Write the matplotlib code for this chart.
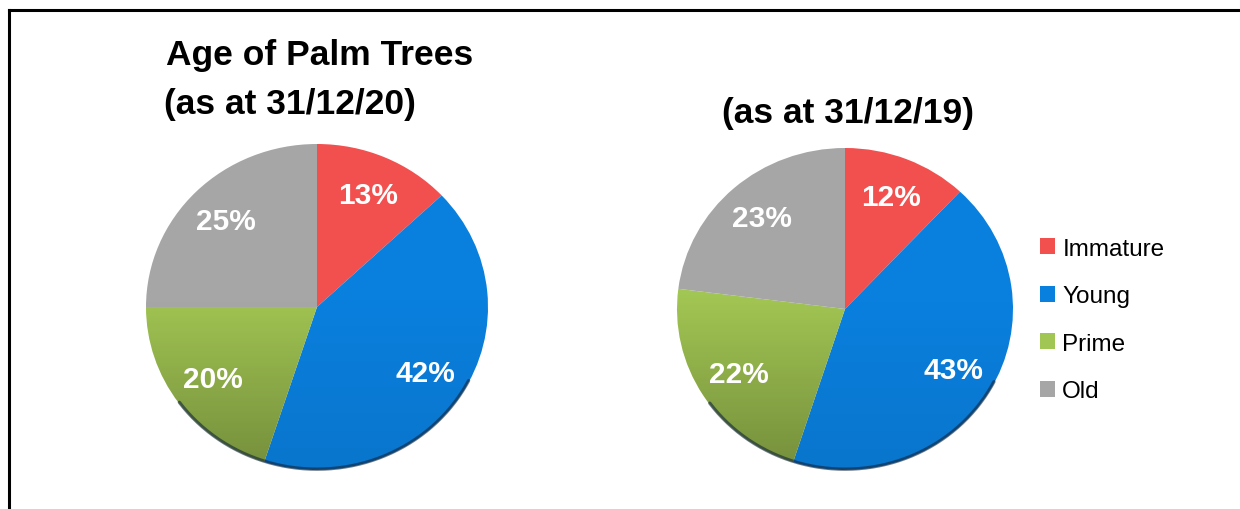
import numpy as np
import matplotlib
matplotlib.use('Agg')
from matplotlib import pyplot as plt
from matplotlib.patches import Patch
from matplotlib.lines import Line2D

plt.rcParams['font.family'] = ['Liberation Sans', 'DejaVu Sans']

categories = ['Immature', 'Young', 'Prime', 'Old']
values_2020 = [13, 42, 20, 25]
values_2019 = [12, 43, 22, 23]
colors = ['#F2504F', '#0A80DE', '#A2C653', '#A6A6A6']
shade_strength = [0.06, 0.08, 0.28, 0.06]

W, H = 1240, 510
fig = plt.figure(figsize=(W / 100, H / 100), dpi=100)


def draw_pie(cx, cy, rx, ry, values):
    # axes sized in pixels so the pie is slightly flattened like the original
    pad = 1.04
    ax = fig.add_axes([(cx - rx * pad) / W, (H - cy - ry * pad) / H,
                       2 * rx * pad / W, 2 * ry * pad / H])
    wedges, texts, autotexts = ax.pie(
        values, colors=colors, startangle=90, counterclock=False,
        autopct='%d%%', pctdistance=0.75,
        wedgeprops=dict(linewidth=0),
        textprops=dict(color='white', fontsize=21.5, fontweight='bold'))
    ax.set_aspect('auto')
    ax.axis('off')
    # soft vertical shading: darker towards the bottom
    grad = np.linspace(0, 1, 256)
    for w, s in zip(wedges, shade_strength):
        shade = np.zeros((256, 1, 4))
        shade[:, 0, 3] = ((grad - 0.45) / 0.55).clip(0) * s
        im = ax.imshow(shade, extent=[-1, 1, -1, 1], origin='upper',
                       aspect='auto', interpolation='bilinear', zorder=1.5)
        im.set_clip_path(w)
    ax.set_xlim(-pad, pad)
    ax.set_ylim(-pad, pad)
    # thin dark rim at the bottom
    t = np.linspace(np.pi * 1.2, np.pi * 1.85, 200)
    ax.plot(np.cos(t) * 0.995, np.sin(t) * 0.995, color='#10243a',
            lw=2.4, alpha=0.6, solid_capstyle='round', zorder=2)
    for a in autotexts:
        a.set_zorder(3)
    return ax


draw_pie(317, 308, 171, 163, values_2020)
draw_pie(845, 310, 168, 161, values_2019)

fig.text(320 / W, 1 - 55 / H, 'Age of Palm Trees', ha='center', va='center',
         fontsize=25.5, fontweight='bold')
fig.text(290 / W, 1 - 105 / H, '(as at 31/12/20)', ha='center', va='center',
         fontsize=25.5, fontweight='bold')
fig.text(848 / W, 1 - 114 / H, '(as at 31/12/19)', ha='center', va='center',
         fontsize=25.5, fontweight='bold')

handles = [Patch(facecolor=c, edgecolor='none') for c in colors]
fig.legend(handles, categories, loc='center left',
           bbox_to_anchor=(1040 / W, 1 - 321 / H), frameon=False,
           fontsize=17.5, handlelength=0.62, handleheight=0.62,
           handletextpad=0.3, labelspacing=1.05, borderpad=0, borderaxespad=0)

# frame: left and top edges only
fig.add_artist(Line2D([9 / W, 9 / W], [0, 1 - 11 / H], color='black', lw=2.2))
fig.add_artist(Line2D([9 / W, 1], [1 - 11 / H, 1 - 11 / H], color='black', lw=2.2))

fig.savefig('out.png', dpi=100)
